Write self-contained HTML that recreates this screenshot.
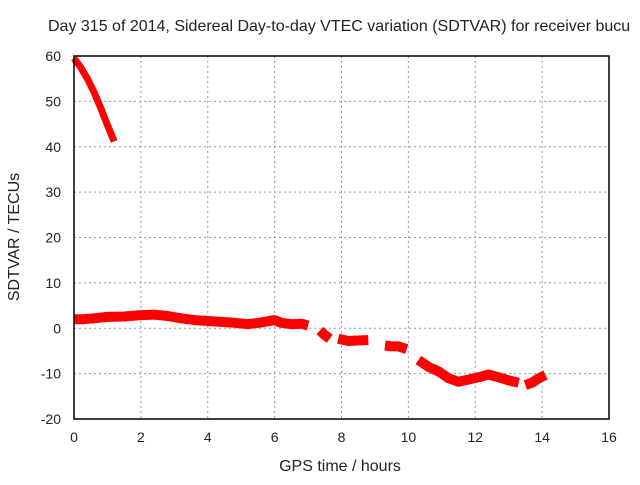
<!DOCTYPE html>
<html><head><meta charset="utf-8"><style>
body{margin:0;background:#fff}
svg text{font-family:"Liberation Sans",sans-serif;font-size:14px;fill:#222}
svg text.big{font-size:16px}
</style></head><body>
<svg id="chart" width="640" height="480">
<text class="big" x="48" y="31">Day 315 of 2014, Sidereal Day-to-day VTEC variation (SDTVAR) for receiver bucu</text>
<g id="grid"></g>
<g id="series"></g>
<rect x="74" y="56" width="535" height="363" fill="none" stroke="#000" stroke-width="1.5"/>
<g id="ticks"></g>
<text class="big" x="340" y="471" text-anchor="middle">GPS time / hours</text>
<text class="big" transform="translate(19,237) rotate(-90)" text-anchor="middle">SDTVAR / TECUs</text>
</svg>
<script>
const xTicks=[0,2,4,6,8,10,12,14,16];
const yTicks=[-20,-10,0,10,20,30,40,50,60];
// segments: times (hours) and SDTVAR values (TECU)
const seg1T=[0,0.2,0.4,0.6,0.8,1.0,1.2];
const seg1V=[59.5,57.5,55,52,48.5,44.8,41.2];
const seg2T=[0,0.3,0.6,1.0,1.5,2.0,2.4,2.8,3.2,3.6,4.0,4.4,4.8,5.2,5.6,6.0,6.2,6.5,6.8,7.0];
const seg2V=[2,2,2.2,2.5,2.6,2.9,3,2.7,2.2,1.8,1.6,1.4,1.2,0.9,1.3,1.8,1.2,0.9,1,0.6];
const seg3T=[7.35,7.5,7.65];
const seg3V=[-0.5,-1.5,-2.3];
const seg4T=[7.9,8.2,8.5,8.8];
const seg4V=[-2.3,-2.8,-2.7,-2.6];
const seg5T=[9.3,9.5,9.7,9.95];
const seg5V=[-3.8,-4,-4,-4.6];
const seg6T=[10.3,10.6,10.9,11.2,11.5,11.8,12.1,12.4,12.7,13.0,13.3];
const seg6V=[-7,-8.5,-9.5,-11,-11.8,-11.3,-10.8,-10.2,-10.8,-11.5,-12];
const seg7T=[13.5,13.7,13.9,14.1];
const seg7V=[-12.5,-12,-11,-10.3];
const segs=[[seg1T,seg1V],[seg2T,seg2V],[seg3T,seg3V],[seg4T,seg4V],[seg5T,seg5V],[seg6T,seg6V],[seg7T,seg7V]];
const X=t=>74+t*535/16, Y=v=>56+(60-v)*363/80;
const NS="http://www.w3.org/2000/svg";
const grid=document.getElementById('grid'),ticks=document.getElementById('ticks'),ser=document.getElementById('series');
function mk(tag,attrs,parent){const e=document.createElementNS(NS,tag);for(const k in attrs)e.setAttribute(k,attrs[k]);parent.appendChild(e);return e;}
xTicks.forEach(t=>{
 if(t>0&&t<16){const g=mk('line',{x1:X(t),x2:X(t),y1:56,y2:419,stroke:'#999','stroke-dasharray':'2,3'},grid);
 
 }
 const l=mk('text',{x:X(t),y:442,'text-anchor':'middle'},ticks);l.textContent=t;
 
 
});
yTicks.forEach(v=>{
 if(v>-20&&v<60){const g=mk('line',{x1:74,x2:609,y1:Y(v),y2:Y(v),stroke:'#999','stroke-dasharray':'2,3'},grid);
 
 }
 const l=mk('text',{x:61,y:Y(v)+5,'text-anchor':'end'},ticks);l.textContent=v;
 
 
});
segs.forEach(([T,V],k)=>{
 const p=T.map((t,i)=>X(t).toFixed(1)+','+Y(V[i]).toFixed(1)).join(' ');
 const pl=mk('polyline',{points:p,fill:'none',stroke:'#f00','stroke-width':k===0?7:10,'stroke-linejoin':'round','stroke-linecap':'butt'},ser);
 
 
});
</script>
</body></html>
